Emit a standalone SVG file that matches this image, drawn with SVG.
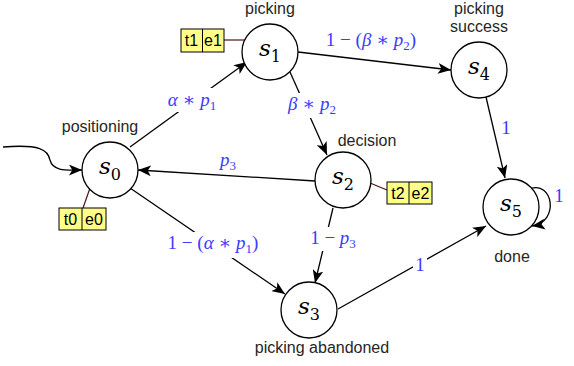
<svg xmlns="http://www.w3.org/2000/svg" width="574" height="366" viewBox="0 0 574 366">
<style>
.node{fill:#fff;stroke:#000;stroke-width:1.3}
.nl{font-family:"DejaVu Serif","Liberation Serif",serif;font-size:23px;fill:#000;text-anchor:middle}
.cap{font-family:"Liberation Sans",Arial,sans-serif;font-size:16px;fill:#262626;text-anchor:middle}
.edge{fill:none;stroke:#000;stroke-width:1.3;marker-end:url(#arr)}
.el{font-family:"Liberation Serif","DejaVu Serif",serif;font-size:19px;fill:#3b3bff;text-anchor:middle}
.bg{fill:#fff}
.tag{fill:#ffff88;stroke:#000;stroke-width:1}
.tt{font-family:"Liberation Sans",Arial,sans-serif;font-size:16px;fill:#000;text-anchor:middle}
.tl{stroke:#4d1414;stroke-width:1.2}
.i{font-style:italic}
</style>
<defs>
<marker id="arr" markerUnits="userSpaceOnUse" viewBox="0 0 12 10" refX="12" refY="5" markerWidth="13" markerHeight="11" orient="auto">
<path d="M0,0 L12,5 L0,10 L3,5 z" fill="#000"/>
</marker>
</defs>
<g id="connectors">
<path class="edge" d="M3,147 C40,144 48,150 50,160 C53,172 68,170 82,170"/>
<line class="edge" x1="130" y1="147" x2="247" y2="62"/>
<line class="edge" x1="290" y1="72" x2="327" y2="155"/>
<line class="edge" x1="298" y1="52" x2="451" y2="70"/>
<line class="edge" x1="315" y1="181" x2="138" y2="170"/>
<line class="edge" x1="130" y1="188" x2="285" y2="294"/>
<line class="edge" x1="333" y1="208" x2="315" y2="283"/>
<line class="edge" x1="338" y1="309" x2="486" y2="226"/>
<line class="edge" x1="486" y1="97" x2="505" y2="178"/>
<path class="edge" d="M530,189 C553,180 560,222 532,226"/>
<line class="tl" x1="90" y1="188" x2="83" y2="208"/>
<line class="tl" x1="224" y1="40" x2="245" y2="40"/>
<line class="tl" x1="370" y1="183" x2="387" y2="190"/>
<rect class="bg" x="166" y="88" width="52" height="24"/>
<rect class="bg" x="286" y="93" width="52" height="25"/>
<rect class="bg" x="164" y="232" width="99" height="26"/>
<rect class="bg" x="306" y="227" width="54" height="24"/>
<rect class="bg" x="413" y="255" width="14" height="20"/>
<text class="el" x="192" y="106"><tspan class="i">α</tspan> ∗ <tspan class="i">p</tspan><tspan font-size="13" dy="4">1</tspan></text>
<text class="el" x="312" y="110"><tspan class="i">β</tspan> ∗ <tspan class="i">p</tspan><tspan font-size="13" dy="4">2</tspan></text>
<text class="el" x="371" y="46">1 − (<tspan class="i">β</tspan> ∗ <tspan class="i">p</tspan><tspan font-size="13" dy="4">2</tspan><tspan dy="-4">)</tspan></text>
<text class="el" x="228" y="166"><tspan class="i">p</tspan><tspan font-size="13" dy="4">3</tspan></text>
<text class="el" x="213" y="249">1 − (<tspan class="i">α</tspan> ∗ <tspan class="i">p</tspan><tspan font-size="13" dy="4">1</tspan><tspan dy="-4">)</tspan></text>
<text class="el" x="333" y="244">1 − <tspan class="i">p</tspan><tspan font-size="13" dy="4">3</tspan></text>
<text class="el" x="420" y="271">1</text>
<text class="el" x="506" y="134">1</text>
<text class="el" x="559" y="202">1</text>
</g>
<g id="s0">
<circle class="node" cx="110" cy="170" r="28"/>
<text class="nl" x="110" y="174"><tspan class="i">s</tspan><tspan font-size="16" dy="6">0</tspan></text>
<text class="cap" x="100" y="132">positioning</text>
<rect class="tag" x="59" y="208" width="47" height="22"/>
<line x1="82" y1="208" x2="82" y2="230" stroke="#000"/>
<text class="tt" x="70.5" y="225">t0</text>
<text class="tt" x="94" y="225">e0</text>
</g>
<g id="s1">
<circle class="node" cx="270" cy="52" r="28"/>
<text class="nl" x="270" y="56"><tspan class="i">s</tspan><tspan font-size="16" dy="6">1</tspan></text>
<text class="cap" x="270" y="14">picking</text>
<rect class="tag" x="181" y="29" width="43" height="23"/>
<line x1="202.5" y1="29" x2="202.5" y2="52" stroke="#000"/>
<text class="tt" x="191.5" y="46">t1</text>
<text class="tt" x="213" y="46">e1</text>
</g>
<g id="s2">
<circle class="node" cx="343" cy="180" r="28"/>
<text class="nl" x="343" y="184"><tspan class="i">s</tspan><tspan font-size="16" dy="6">2</tspan></text>
<text class="cap" x="367" y="146">decision</text>
<rect class="tag" x="387" y="182" width="45" height="22"/>
<line x1="409" y1="182" x2="409" y2="204" stroke="#000"/>
<text class="tt" x="398" y="199">t2</text>
<text class="tt" x="420.5" y="199">e2</text>
</g>
<g id="s3">
<circle class="node" cx="309" cy="310" r="28"/>
<text class="nl" x="309" y="314"><tspan class="i">s</tspan><tspan font-size="16" dy="6">3</tspan></text>
<text class="cap" x="322" y="353">picking abandoned</text>
</g>
<g id="s4">
<circle class="node" cx="479" cy="70" r="28"/>
<text class="nl" x="479" y="74"><tspan class="i">s</tspan><tspan font-size="16" dy="6">4</tspan></text>
<text class="cap" x="479" y="14">picking</text>
<text class="cap" x="479" y="32">success</text>
</g>
<g id="s5">
<circle class="node" cx="511" cy="207" r="28"/>
<text class="nl" x="511" y="211"><tspan class="i">s</tspan><tspan font-size="16" dy="6">5</tspan></text>
<text class="cap" x="512" y="262">done</text>
</g>
</svg>
